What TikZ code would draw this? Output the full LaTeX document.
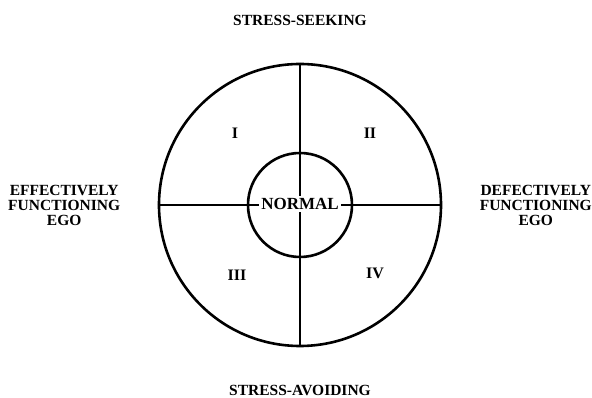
\documentclass[tikz,border=0pt]{standalone}
\usepackage{fontspec}
\setmainfont{Liberation Serif}
\usetikzlibrary{positioning}

\begin{document}
\begin{tikzpicture}[x=1pt, y=1pt, node distance=34pt]
  \useasboundingbox (-300,-193) rectangle (292,205);
  \tikzset{
    ring/.style={draw, circle, line width=2.6pt, inner sep=0pt},
    axislabel/.style={font=\fontsize{15.5}{15}\selectfont\bfseries, align=center},
    quadlabel/.style={font=\fontsize{16}{16}\selectfont\bfseries}
  }

  % circles
  \node[ring, minimum size=282pt] (outer) at (0,0) {};
  \node[ring, minimum size=104pt] (inner) at (0,0) {};

  % axes
  \draw[line width=2.2pt] (outer.north) -- (outer.south);
  \draw[line width=2.2pt] (outer.west) -- (outer.east);
  \node[axislabel, font=\fontsize{17}{17}\selectfont\bfseries,
        fill=white, inner sep=2pt] (normal) at (0,1) {NORMAL};

  % quadrants
  \node[quadlabel] (q1) at (-65,72) {I};
  \node[quadlabel] (q2) at (70,72) {II};
  \node[quadlabel] (q3) at (-63,-70) {III};
  \node[quadlabel] (q4) at (75,-68) {IV};

  % outer labels
  \node[axislabel, above=of outer] (seek) {STRESS-SEEKING};
  \node[axislabel, below=of outer] (avoid) {STRESS-AVOIDING};
  \node[axislabel, left=of outer] (eff) {EFFECTIVELY\\FUNCTIONING\\EGO};
  \node[axislabel, right=of outer] (def) {DEFECTIVELY\\FUNCTIONING\\EGO};
\end{tikzpicture}
\end{document}
